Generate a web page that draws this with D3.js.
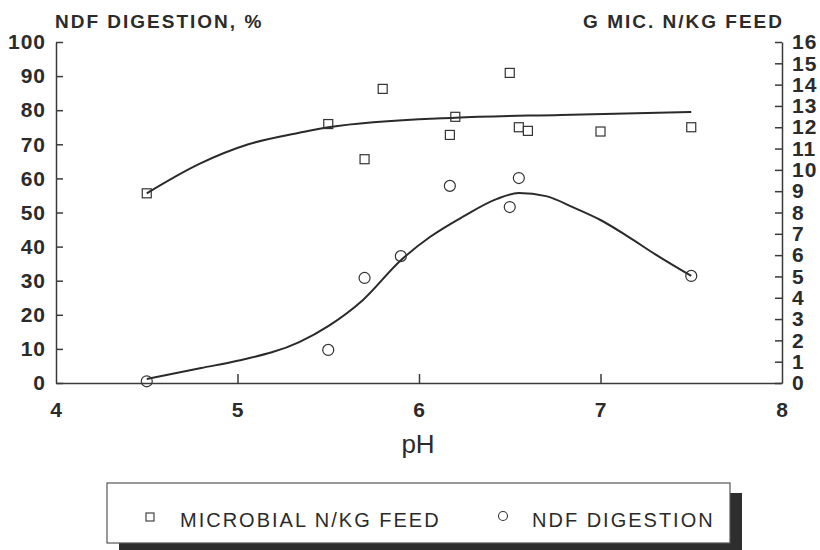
<!DOCTYPE html>
<html lang="en">
  <head>
    <meta charset="UTF-8" />
    <title>NDF digestion and microbial N vs pH</title>
    <style>
      body { margin: 0; background: #fff; }
      text { font-family: "Liberation Sans", Arial, sans-serif; fill: #2b2b2b; }
    </style>
  </head>
  <body>
    <div class="chart"></div>
    <script src="https://d3js.org/d3.v7.min.js"></script>
    <script>
      // observed points
      const ndfPH = [4.5, 5.5, 5.7, 5.9, 6.17, 6.5, 6.55, 7.5];
      const ndfVal = [0.5, 9.7, 30.8, 37.2, 57.8, 51.6, 60.1, 31.4];
      const micPH = [4.5, 5.5, 5.7, 5.8, 6.17, 6.2, 6.5, 6.55, 6.6, 7.0, 7.5];
      const micVal = [8.9, 12.15, 10.5, 13.8, 11.64, 12.49, 14.55, 12.0, 11.83, 11.8, 12.0];

      // fitted curves
      const ndfFitPH = [4.5, 4.8, 5.0, 5.34, 5.5, 5.69, 5.9, 6.06, 6.24, 6.43, 6.55, 6.7, 6.85, 7.0, 7.15, 7.3, 7.5];
      const ndfFitVal = [1.2, 4.4, 6.5, 12, 16.7, 24.3, 36, 42.8, 48.7, 54, 55.7, 54.8, 51.5, 47.8, 43, 37.8, 31.4];
      const micFitPH = [4.5, 4.79, 5.06, 5.34, 5.5, 6.2, 6.78, 7.5];
      const micFitVal = [8.9, 10.28, 11.2, 11.74, 12.0, 12.45, 12.58, 12.72];

      const xTicks = [4, 5, 6, 7, 8];
      const leftTicks = d3.range(0, 101, 10);
      const rightTicks = d3.range(0, 17, 1);
      const legendLabels = ["MICROBIAL N/KG FEED", "NDF DIGESTION"];

      const drawChart = () => {
        const width = 820;
        const height = 550;
        const left = 56, right = 782, top = 42, bottom = 383;

        const svg = d3
          .select(".chart")
          .append("svg")
          .attr("width", width)
          .attr("height", height);

        const xScale = d3.scaleLinear().domain([4, 8]).range([left, right]);
        const yLeft = d3.scaleLinear().domain([0, 100]).range([bottom, top]);
        const yRight = d3.scaleLinear().domain([0, 16]).range([bottom, top]);

        const styleAxis = (g, size) => {
          g.selectAll("path, line").attr("stroke", "#3a3a3a").attr("stroke-width", 1.5);
          g.selectAll("text")
            .style("font-size", size + "px")
            .style("font-weight", "bold")
            .style("letter-spacing", "1px")
            .attr("fill", "#2b2b2b");
        };

        // x軸
        svg.append("g")
          .attr("transform", `translate(0,${bottom})`)
          .call(d3.axisBottom(xScale).tickValues(xTicks).tickFormat(d3.format("d"))
            .tickSizeInner(-9).tickSizeOuter(0).tickPadding(19))
          .call((g) => styleAxis(g, 21))
          .call((g) => g.selectAll(".tick line").filter((d) => d === 4 || d === 8).remove());

        // 左軸
        svg.append("g")
          .attr("transform", `translate(${left},0)`)
          .call(d3.axisLeft(yLeft).tickValues(leftTicks).tickSizeInner(-7).tickSizeOuter(0).tickPadding(10))
          .call((g) => styleAxis(g, 21));

        // 右軸
        svg.append("g")
          .attr("transform", `translate(${right},0)`)
          .call(d3.axisRight(yRight).tickValues(rightTicks).tickSizeInner(-7).tickSizeOuter(0).tickPadding(10))
          .call((g) => styleAxis(g, 21));

        // axis titles
        svg.append("text")
          .attr("x", 55).attr("y", 28)
          .style("font-size", "19px").style("font-weight", "bold").style("letter-spacing", "2px")
          .text("NDF DIGESTION, %");
        svg.append("text")
          .attr("x", 784).attr("y", 28).attr("text-anchor", "end")
          .style("font-size", "19px").style("font-weight", "bold").style("letter-spacing", "2px")
          .text("G MIC. N/KG FEED");
        svg.append("text")
          .attr("x", 418).attr("y", 453).attr("text-anchor", "middle")
          .style("font-size", "26px")
          .text("pH");

        // fitted lines
        const ndfLine = d3.line()
          .x((d, i) => xScale(ndfFitPH[i]))
          .y((d) => yLeft(d))
          .curve(d3.curveMonotoneX);
        const micLine = d3.line()
          .x((d, i) => xScale(micFitPH[i]))
          .y((d) => yRight(d))
          .curve(d3.curveMonotoneX);

        svg.append("path").attr("d", micLine(micFitVal))
          .attr("fill", "none").attr("stroke", "#2a2a2a").attr("stroke-width", 2);
        svg.append("path").attr("d", ndfLine(ndfFitVal))
          .attr("fill", "none").attr("stroke", "#2a2a2a").attr("stroke-width", 2);

        // points
        svg.append("g").selectAll("rect")
          .data(micVal)
          .join("rect")
          .attr("x", (d, i) => xScale(micPH[i]) - 4.5)
          .attr("y", (d) => yRight(d) - 4.5)
          .attr("width", 9).attr("height", 9)
          .attr("fill", "none").attr("stroke", "#333").attr("stroke-width", 1.2);

        svg.append("g").selectAll("circle")
          .data(ndfVal)
          .join("circle")
          .attr("cx", (d, i) => xScale(ndfPH[i]))
          .attr("cy", (d) => yLeft(d))
          .attr("r", 5.5)
          .attr("fill", "none").attr("stroke", "#333").attr("stroke-width", 1.2);

        // legend
        const legend = svg.append("g");
        legend.append("rect")
          .attr("x", 119).attr("y", 493).attr("width", 623).attr("height", 57)
          .attr("fill", "#2e2e2e");
        legend.append("rect")
          .attr("x", 107).attr("y", 483).attr("width", 623).attr("height", 60)
          .attr("fill", "#fff").attr("stroke", "#555").attr("stroke-width", 1.2);
        legend.append("rect")
          .attr("x", 146).attr("y", 513).attr("width", 8).attr("height", 8)
          .attr("fill", "none").attr("stroke", "#333").attr("stroke-width", 1.1);
        legend.append("circle")
          .attr("cx", 503).attr("cy", 516).attr("r", 4.5)
          .attr("fill", "none").attr("stroke", "#333").attr("stroke-width", 1.1);
        legend.selectAll("text.lbl")
          .data(legendLabels)
          .join("text")
          .attr("class", "lbl")
          .attr("x", (d, i) => (i === 0 ? 180 : 532))
          .attr("y", 527)
          .style("font-size", "20px")
          .style("letter-spacing", "2px")
          .text((d) => d);
      };

      drawChart();
    </script>
  </body>
</html>
